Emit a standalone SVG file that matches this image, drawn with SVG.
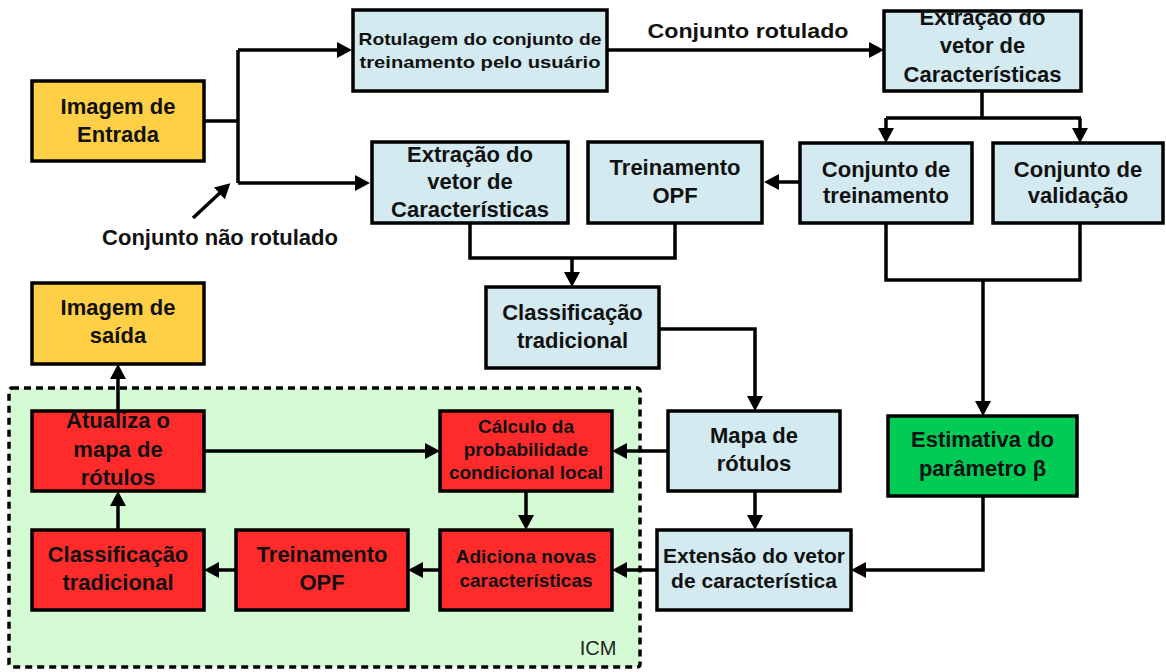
<svg xmlns="http://www.w3.org/2000/svg" width="1166" height="672" viewBox="0 0 1166 672">
<style>
.box{stroke:#000;stroke-width:3.5}
.y{fill:#FFCF45}
.b{fill:#D3EAF0}
.r{fill:#FF2B2B}
.g{fill:#00CC55}
text{font-family:"Liberation Sans",Arial,sans-serif;font-weight:bold;fill:#111;text-anchor:middle}
.t22{font-size:22px}
.t19{font-size:19px}
.t21{font-size:21px}
.c{fill:none;stroke:#000;stroke-width:3.5}
</style>
<defs>
<marker id="ah" markerUnits="userSpaceOnUse" markerWidth="16" markerHeight="16" refX="5" refY="8" orient="auto">
<path d="M0,0 L15,8 L0,16 z" fill="#000"/>
</marker>
</defs>
<rect id="icm-bg" x="9" y="388" width="631" height="279" rx="3" fill="#D5FBD5" stroke="#000" stroke-width="3.5" stroke-dasharray="7 5"/>
<text x="598" y="655" style="font-weight:normal;font-size:20px;fill:#222">ICM</text>
<g id="connectors">
<path class="c" d="M204,121 H238 M238,50 V183"/>
<path class="c" d="M238,50 H342" marker-end="url(#ah)"/>
<path class="c" d="M238,183 H360" marker-end="url(#ah)"/>
<path class="c" d="M193,218 L223,190" marker-end="url(#ah)"/>
<path class="c" d="M607,50 H874" marker-end="url(#ah)"/>
<path class="c" d="M982,91 V118 M886,118 H1081"/>
<path class="c" d="M886,118 V133" marker-end="url(#ah)"/>
<path class="c" d="M1080,118 V133" marker-end="url(#ah)"/>
<path class="c" d="M800,182 H774" marker-end="url(#ah)"/>
<path class="c" d="M470,223 V258 H675 V223"/>
<path class="c" d="M572,258 V277" marker-end="url(#ah)"/>
<path class="c" d="M659,329 H755 V401" marker-end="url(#ah)"/>
<path class="c" d="M886,223 V280 H1080 V223"/>
<path class="c" d="M983,280 V406" marker-end="url(#ah)"/>
<path class="c" d="M755,491 V520" marker-end="url(#ah)"/>
<path class="c" d="M983,496 V570 H861" marker-end="url(#ah)"/>
<path class="c" d="M668,451 H622" marker-end="url(#ah)"/>
<path class="c" d="M657,570 H622" marker-end="url(#ah)"/>
<path class="c" d="M526,491 V520" marker-end="url(#ah)"/>
<path class="c" d="M440,570 H418" marker-end="url(#ah)"/>
<path class="c" d="M236,570 H214" marker-end="url(#ah)"/>
<path class="c" d="M118,530 V501" marker-end="url(#ah)"/>
<path class="c" d="M118,411 V374" marker-end="url(#ah)"/>
<path class="c" d="M204,451 H430" marker-end="url(#ah)"/>
</g>
<g id="imagem-entrada">
<rect class="box y" x="32" y="81" width="172" height="80"/>
<text class="t22" x="118" y="114">Imagem de</text>
<text class="t22" x="118" y="142">Entrada</text>
</g>
<text class="t22" x="220" y="245">Conjunto não rotulado</text>
<text class="t21" x="748" y="38" textLength="201" lengthAdjust="spacingAndGlyphs">Conjunto rotulado</text>
<g id="rotulagem">
<rect class="box b" x="353" y="10" width="254" height="81"/>
<text x="480" y="45" style="font-size:17px" textLength="243" lengthAdjust="spacingAndGlyphs">Rotulagem do conjunto de</text>
<text x="480" y="68" style="font-size:17px" textLength="241" lengthAdjust="spacingAndGlyphs">treinamento pelo usuário</text>
</g>
<g id="extracao-top">
<rect class="box b" x="884" y="11" width="197" height="80"/>
<text class="t22" x="982.5" y="25">Extração do</text>
<text class="t22" x="982.5" y="53">vetor de</text>
<text class="t22" x="982.5" y="82">Características</text>
</g>
<g id="conj-treino">
<rect class="box b" x="800" y="143" width="172" height="80"/>
<text class="t22" x="886" y="177">Conjunto de</text>
<text class="t22" x="886" y="203">treinamento</text>
</g>
<g id="conj-valid">
<rect class="box b" x="993" y="143" width="170" height="80"/>
<text class="t22" x="1078" y="177">Conjunto de</text>
<text class="t22" x="1078" y="203">validação</text>
</g>
<g id="treino-opf-top">
<rect class="box b" x="588" y="142" width="174" height="81"/>
<text class="t22" x="675" y="175">Treinamento</text>
<text class="t22" x="675" y="203">OPF</text>
</g>
<g id="extracao-2">
<rect class="box b" x="372" y="142" width="196" height="81"/>
<text class="t22" x="470" y="162">Extração do</text>
<text class="t22" x="470" y="189">vetor de</text>
<text class="t22" x="470" y="217">Características</text>
</g>
<g id="classif-top">
<rect class="box b" x="486" y="287" width="173" height="81"/>
<text class="t22" x="572.5" y="320">Classificação</text>
<text class="t22" x="572.5" y="348">tradicional</text>
</g>
<g id="mapa">
<rect class="box b" x="668" y="411" width="172" height="80"/>
<text class="t22" x="754" y="443">Mapa de</text>
<text class="t22" x="754" y="471">rótulos</text>
</g>
<g id="extensao">
<rect class="box b" x="657" y="530" width="194" height="80"/>
<text class="t21" x="754" y="563">Extensão do vetor</text>
<text class="t21" x="754" y="588">de característica</text>
</g>
<g id="estimativa">
<rect class="box g" x="888" y="416" width="189" height="80"/>
<text class="t22" x="982.5" y="447">Estimativa do</text>
<text class="t22" x="982.5" y="476">parâmetro β</text>
</g>
<g id="imagem-saida">
<rect class="box y" x="32" y="283" width="172" height="81"/>
<text class="t22" x="118" y="315">Imagem de</text>
<text class="t22" x="118" y="343">saída</text>
</g>
<g id="atualiza">
<rect class="box r" x="32" y="411" width="172" height="80"/>
<text class="t22" x="118" y="428">Atualiza o</text>
<text class="t22" x="118" y="457">mapa de</text>
<text class="t22" x="118" y="485">rótulos</text>
</g>
<g id="calculo">
<rect class="box r" x="440" y="411" width="172" height="80"/>
<text class="t19" x="526" y="433">Cálculo da</text>
<text class="t19" x="526" y="456">probabilidade</text>
<text class="t19" x="526" y="479">condicional local</text>
</g>
<g id="classif-red">
<rect class="box r" x="32" y="530" width="172" height="80"/>
<text class="t22" x="118" y="562">Classificação</text>
<text class="t22" x="118" y="590">tradicional</text>
</g>
<g id="treino-red">
<rect class="box r" x="236" y="530" width="172" height="80"/>
<text class="t22" x="322" y="562">Treinamento</text>
<text class="t22" x="322" y="590">OPF</text>
</g>
<g id="adiciona">
<rect class="box r" x="440" y="530" width="172" height="80"/>
<text class="t19" x="526" y="563">Adiciona novas</text>
<text class="t19" x="526" y="587">características</text>
</g>
</svg>
